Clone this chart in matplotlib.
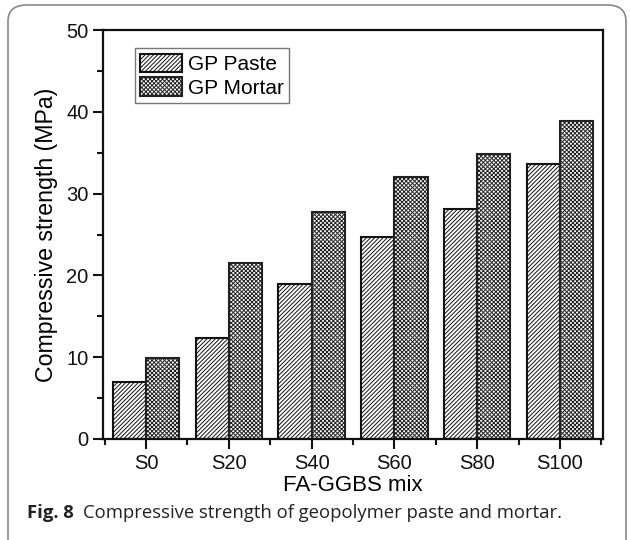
import matplotlib
matplotlib.use("Agg")
import matplotlib.pyplot as plt
import numpy as np
from matplotlib.patches import FancyBboxPatch
from matplotlib.ticker import MultipleLocator, FixedLocator

categories = ["S0", "S20", "S40", "S60", "S80", "S100"]
paste = [7.0, 12.3, 18.9, 24.7, 28.1, 33.6]
mortar = [9.9, 21.5, 27.7, 32.0, 34.9, 38.9]
series_names = ["GP Paste", "GP Mortar"]

plt.rcParams['font.family'] = ['Liberation Sans', 'DejaVu Sans']
plt.rcParams['hatch.linewidth'] = 0.7

fig = plt.figure(figsize=(6.3, 5.4), dpi=100)
ax = fig.add_axes([103/630, 1-439/540, 500/630, 409/540])

x = np.arange(len(categories))
w = 0.4
ax.bar(x - w/2, paste, w, facecolor='white', edgecolor='#111111', hatch='////////', linewidth=1.5, label=series_names[0])
ax.bar(x + w/2, mortar, w, facecolor='white', edgecolor='#222222', hatch='xxxxxxxx', linewidth=1.5, label=series_names[1])

ax.set_xlim(-0.52, 5.52)
ax.set_ylim(0, 50)
ax.set_xticks(x)
ax.set_xticklabels(categories)
ax.xaxis.set_minor_locator(FixedLocator(np.arange(-0.5, 6.0, 1.0)))
ax.yaxis.set_major_locator(MultipleLocator(10))
ax.yaxis.set_minor_locator(MultipleLocator(5))
ax.tick_params(which='both', direction='out', top=False, right=False, labelsize=14.5, width=1.5, colors='#111111')
ax.tick_params(which='major', length=7)
ax.tick_params(which='minor', length=4)
for s in ax.spines.values():
    s.set_linewidth(1.6)
    s.set_color('#111111')

ax.set_xlabel("FA-GGBS mix", fontsize=16, labelpad=2)
ax.set_ylabel("Compressive strength (MPa)", fontsize=16.7, labelpad=6)

leg = ax.legend(loc='upper left', bbox_to_anchor=(0.064, 0.955), fontsize=15, frameon=True, fancybox=False,
                edgecolor='#555555', handlelength=2.0, handleheight=1.0, borderpad=0.25, labelspacing=0.15,
                handletextpad=0.3, borderaxespad=0)
leg.get_frame().set_linewidth(1.0)

# outer rounded frame
frame = FancyBboxPatch((8/630, -0.05), 618/630, (535+27)/540 - 0.0, transform=fig.transFigure,
                       boxstyle="round,pad=0,rounding_size=0.03", facecolor='none', edgecolor='#888888',
                       linewidth=1.2, clip_on=False)
fig.add_artist(frame)

# caption
fig.canvas.draw()
r = fig.canvas.get_renderer()
t1 = fig.text(27/630, 1-518/540, "Fig. 8", fontsize=13.3, fontweight='bold', family=['Open Sans', 'DejaVu Sans'],
              va='baseline', ha='left', color='#222222')
bb = t1.get_window_extent(renderer=r)
fig.text((bb.x1 + 9)/630, 1-518/540, "Compressive strength of geopolymer paste and mortar.", fontsize=13.3,
         family=['Open Sans', 'DejaVu Sans'], va='baseline', ha='left', color='#222222')

fig.savefig("out.png", dpi=100)
